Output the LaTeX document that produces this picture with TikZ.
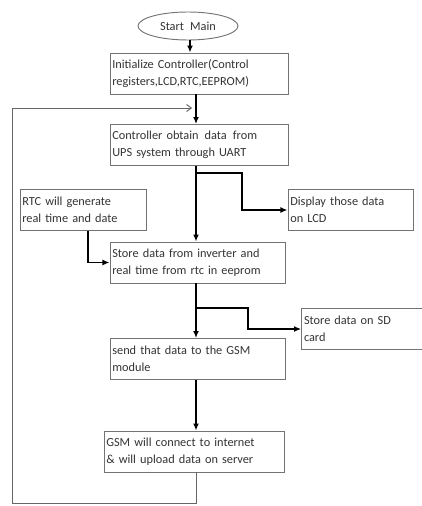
\documentclass[tikz,border=0pt]{standalone}
\usepackage{fontspec}
\setmainfont{Carlito}
\usetikzlibrary{arrows.meta,shapes.geometric}

\tikzset{
  box/.style={draw=black!55, line width=0.8pt, rectangle, inner sep=2pt, align=left,
    text=black!80, font=\fontsize{10.5}{14.5}\selectfont, minimum height=1.23cm},
  oval/.style={draw=black!55, line width=0.8pt, ellipse, inner sep=1pt,
    text=black!80, font=\fontsize{10.5}{14.5}\selectfont, minimum width=3cm, minimum height=0.84cm},
  flow/.style={line width=1.4pt, -{Latex[length=6pt,width=5pt]}},
  back/.style={draw=black!60, line width=0.8pt, -{Straight Barb[length=4pt,width=6pt]}}
}

\begin{document}
\begin{tikzpicture}[x=0.03cm,y=-0.03cm]
\useasboundingbox (0,0) rectangle (422,506);

\node[oval] (start) at (188,26) {Start\enspace Main};
\node[box,text width=5.2cm] (init) at (199,73.5) {Initialize Controller(Control\\registers,LCD,RTC,EEPROM)};
\node[box,text width=5.2cm] (obtain) at (199,145) {Controller obtain\enspace data\enspace from\\UPS system through UART};
\node[box,text width=3.64cm] (rtc) at (83,210) {RTC will generate\\real time and date};
\node[box,text width=3.61cm] (lcd) at (350.5,210) {Display those data\\on LCD};
\node[box,text width=5.11cm] (store) at (197.5,262.5) {Store data from inverter and\\real time from rtc in eeprom};
\node[box,text width=3.6cm] (sd) at (364,329) {Store data on SD\\card};
\node[box,text width=5.11cm] (send) at (197.5,359) {send that data to the GSM\\module};
\node[box,text width=5.26cm] (gsm) at (194,451.5) {GSM will connect to internet\\\& will upload data on server};

\coordinate (spine) at (196,0);
\coordinate (looptop) at (12,108);
\coordinate (loopbot) at (12,503);
\coordinate (lcdfork) at (196,173);
\coordinate (sdfork) at (196,308);

\draw[flow] (start.south -| 190,0) -- (init.north -| 190,0);
\draw[flow] (init.south -| spine) -- (obtain.north -| spine);
\draw[back] (gsm.south -| spine) |- (loopbot) -- (looptop) -- (looptop -| 192,0); % loop back
\draw[flow] (obtain.south -| spine) -- (store.north -| spine);
\draw[flow] (lcdfork) -- ++(46,0) |- (lcd.west);
\draw[flow] ([xshift=0.15cm]rtc.south) |- (store.west);
\draw[flow] (store.south -| spine) -- (send.north -| spine);
\draw[flow] (sdfork) -- ++(52,0) |- (sd.west);
\draw[flow] (send.south -| spine) -- (gsm.north -| spine);
\end{tikzpicture}
\end{document}
